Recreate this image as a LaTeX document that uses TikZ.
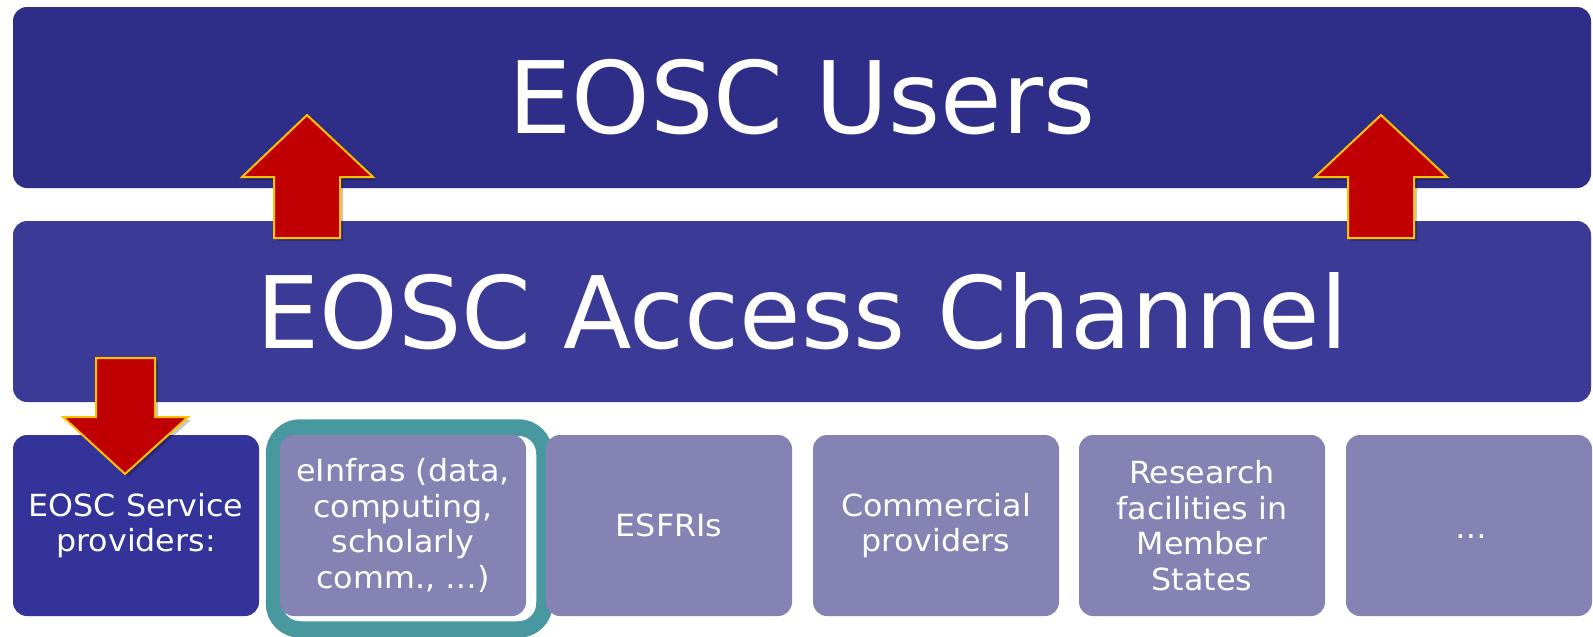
\documentclass[tikz,border=0pt]{standalone}
\usepackage{fontspec}
\setmainfont{DejaVu Sans}
\newfontfamily\boxfont[FakeStretch=1.04]{DejaVu Sans}
\definecolor{topblue}{HTML}{2E2D88}
\definecolor{midblue}{HTML}{3B3A97}
\definecolor{provblue}{HTML}{34339A}
\definecolor{lav}{HTML}{8483B3}
\definecolor{tealring}{HTML}{47999F}
\definecolor{arrred}{HTML}{C00000}
\definecolor{arrgold}{HTML}{FFC000}
\begin{document}
\begin{tikzpicture}[x=1pt,y=-1pt,
  bigbox/.style={rounded corners=14pt, inner sep=0pt, text=white,
    minimum width=1578pt, minimum height=181pt,
    font=\fontsize{100}{120}\selectfont},
  smallbox/.style={rounded corners=14pt, inner sep=0pt, minimum width=246pt,
    minimum height=181pt, text=white, align=center, fill=lav,
    font=\boxfont\fontsize{30.5}{35.5}\selectfont},
  boxlabel/.style={text=white, inner sep=0pt, font=\boxfont\fontsize{30.5}{35.5}\selectfont},
  bigarrow/.style={fill=arrred, draw=arrgold, line width=2pt, line join=miter},
  arrshadow/.style={fill=black, opacity=0.22}]
\useasboundingbox (0,0) rectangle (1593,637);
\fill[white] (0,0) rectangle (1593,637);

% layers
\node[bigbox, fill=topblue] (users) at (802,97.5) {EOSC Users};
\node[bigbox, fill=midblue] (access) at (802,311.5) {EOSC Access Channel};

% teal highlight ring
\draw[tealring, line width=16.5pt, rounded corners=26pt] (274,427.5) rectangle (544.5,629.5);

% providers row
\node[smallbox, fill=provblue] (prov) at (136,525.5) {EOSC Service\\providers:};
\node[smallbox] (einfra) at (403,525.5) {eInfras (data,\\computing,\\scholarly\\comm., …)};
\node[smallbox] (esfri) at (669,525.5) {ESFRIs};
\node[smallbox] (comm) at (936,525.5) {Commercial\\providers};
\node[smallbox] (research) at (1202,525.5) {Research\\facilities in\\Member\\States};
\node[smallbox] (more) at (1469,525.5) {};
\node[boxlabel, anchor=base] (moretext) at (1471,538) {…};

% arrows (shadows)
\fill[arrshadow] (310,118) -- (376,180) -- (343,180) -- (343,241) -- (277,241) -- (277,180) -- (245,180) -- cycle;
\fill[arrshadow] (1384,118) -- (1450,180) -- (1417,180) -- (1417,241) -- (1351,241) -- (1351,180) -- (1318,180) -- cycle;
\fill[arrshadow] (99,361) -- (158,361) -- (158,420) -- (191,420) -- (128,477) -- (66,420) -- (99,420) -- cycle;

% arrows
\draw[bigarrow] (307,115) -- (373,177) -- (340,177) -- (340,238) -- (274,238) -- (274,177) -- (242,177) -- cycle;
\draw[bigarrow] (1381,115) -- (1447,177) -- (1414,177) -- (1414,238) -- (1348,238) -- (1348,177) -- (1315,177) -- cycle;
\draw[bigarrow] (96,358) -- (155,358) -- (155,417) -- (188,417) -- (125,474) -- (63,417) -- (96,417) -- cycle;
\end{tikzpicture}
\end{document}
